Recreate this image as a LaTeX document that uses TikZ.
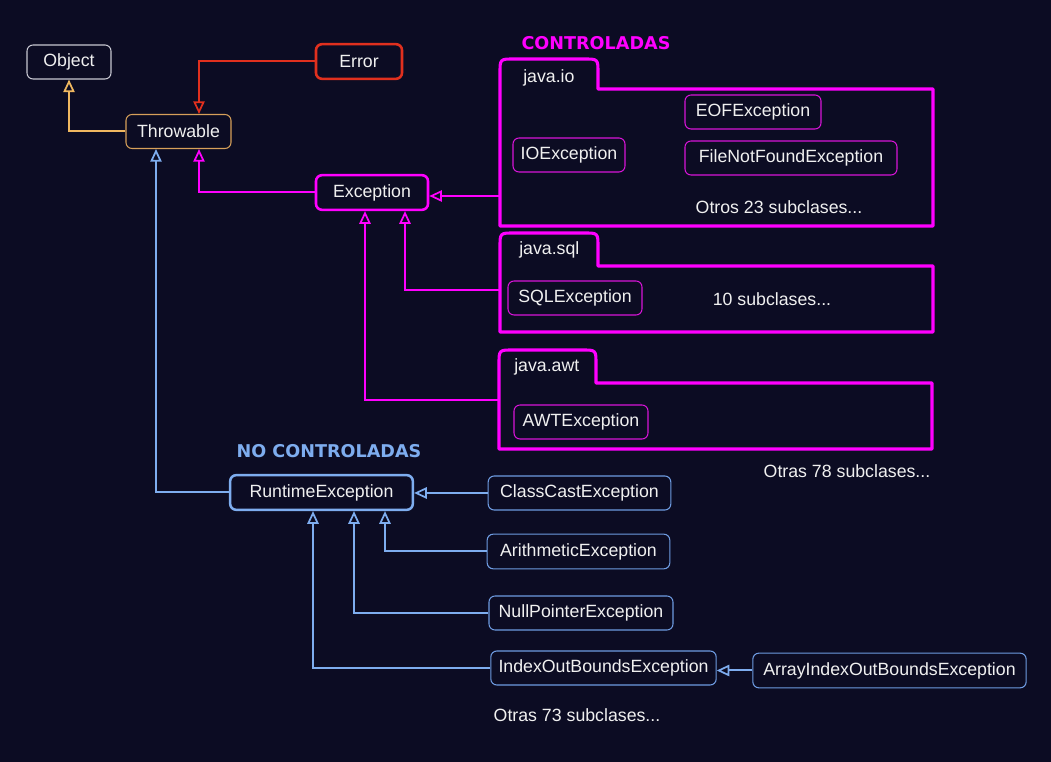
\documentclass[tikz,border=0pt]{standalone}
\usepackage{fontspec}
\setmainfont{Liberation Sans}
\newfontfamily\titlefont{DejaVu Sans}
\usetikzlibrary{arrows.meta,calc}
\definecolor{bg}{RGB}{12,12,35}
\definecolor{mag}{RGB}{255,0,255}
\definecolor{magd}{RGB}{215,20,215}
\definecolor{blu}{RGB}{126,173,239}
\definecolor{blud}{RGB}{110,155,225}
\definecolor{org}{RGB}{240,184,96}
\definecolor{orgd}{RGB}{215,160,90}
\definecolor{redc}{RGB}{225,48,30}
\definecolor{gry}{RGB}{200,200,210}
\definecolor{txt}{RGB}{240,240,240}
\tikzset{
  box/.style={rounded corners=4.5pt, text=txt, font=\fontsize{13.3}{15}\selectfont, minimum height=25.5pt, inner sep=0pt, fill=bg},
  thinbox/.style={box, line width=0.8pt},
  thickbox/.style={box, line width=1.9pt},
  lbl/.style={text=txt, font=\fontsize{13.3}{15}\selectfont, inner sep=0pt},
  ttl/.style={font=\titlefont\bfseries\fontsize{13.2}{15}\selectfont, inner sep=0pt},
  fold/.style={draw=mag, line width=2.3pt, line join=round},
  conn/.style={line width=1.5pt, -{Triangle[open,length=9.5pt,width=8.5pt,line width=1.3pt]}},
}
\begin{document}
\begin{tikzpicture}[x=0.75pt,y=-0.75pt]
\useasboundingbox[fill=bg] (0,0) rectangle (1051,762);

% folders
\draw[fold] (500,226) -- (500,73) .. controls (500,59) .. (514,59) -- (584,59) .. controls (598,59) .. (598,73) -- (598,89) -- (933,89) -- (933,226) -- cycle;
\draw[fold] (500,332) -- (500,247) .. controls (500,233) .. (514,233) -- (584,233) .. controls (598,233) .. (598,247) -- (598,266) -- (933,266) -- (933,332) -- cycle;
\draw[fold] (499,449) -- (499,364) .. controls (499,350) .. (513,350) -- (582,350) .. controls (596,350) .. (596,364) -- (596,383) -- (932,383) -- (932,449) -- cycle;
\node[lbl, anchor=west] (lio) at (523,78) {java.io};
\node[lbl, anchor=west] (lsql) at (519,250) {java.sql};
\node[lbl, anchor=west] (lawt) at (514,367) {java.awt};
\coordinate (ioL) at (500,196);
\coordinate (sqlL) at (500,290);
\coordinate (awtL) at (499,400);

% titles
\node[ttl, text=mag] (tc) at (596,43) {CONTROLADAS};
\node[ttl, text=blu] (tnc) at (329,451) {NO CONTROLADAS};

% nodes
\node[thinbox, draw=gry, minimum width=63pt] (obj) at (69,62) {Object};
\node[thinbox, draw=orgd, minimum width=78.75pt] (thr) at (178.5,131.5) {Throwable};
\node[thickbox, draw=redc, minimum width=64.5pt, minimum height=26pt] (err) at (359,61.5) {Error};
\node[thickbox, draw=mag, minimum width=84pt, minimum height=26pt] (exc) at (372,192.5) {Exception};

\node[thinbox, draw=magd, minimum width=84pt] (ioe) at (569,155) {IOException};
\node[thinbox, draw=magd, minimum width=102pt] (eof) at (753,112) {EOFException};
\node[thinbox, draw=magd, minimum width=159pt] (fnf) at (791,158) {FileNotFoundException};
\node[lbl] (o23) at (779,207) {Otros 23 subclases...};
\node[thinbox, draw=magd, minimum width=100.5pt] (sqle) at (575,298) {SQLException};
\node[lbl] (s10) at (772,299) {10 subclases...};
\node[thinbox, draw=magd, minimum width=100.5pt] (awte) at (581,422) {AWTException};
\node[lbl] (o78) at (847,471) {Otras 78 subclases...};

\node[thickbox, draw=blu, minimum width=137pt, minimum height=26pt] (rte) at (321.5,492.5) {RuntimeException};
\node[thinbox, draw=blud, minimum width=137pt] (cce) at (579.5,493) {ClassCastException};
\node[thinbox, draw=blud, minimum width=137pt, minimum height=26pt] (are) at (578.5,551.5) {ArithmeticException};
\node[thinbox, draw=blud, minimum width=138pt] (npe) at (581,613) {NullPointerException};
\node[thinbox, draw=blud, minimum width=169pt] (ioobe) at (603.5,668) {IndexOutBoundsException};
\node[thinbox, draw=blud, minimum width=205pt, minimum height=26pt] (aioobe) at (889.5,670.5) {ArrayIndexOutBoundsException};
\node[lbl] (o73) at (577,715) {Otras 73 subclases...};

% connectors
\draw[conn, draw=org] (thr.west) -| (obj.south);
\draw[conn, draw=redc] (err.west) -| ($(thr.north)+(20.5,0)$);
\draw[conn, draw=mag] (exc.west) -| ($(thr.south)+(20.5,0)$);
\draw[conn, draw=blu] (rte.west) -| ($(thr.south)+(-22.5,0)$);

\draw[conn, draw=mag] (ioL) -- (exc.east |- ioL);
\draw[conn, draw=mag] (sqlL) -| ($(exc.south)+(33,0)$);
\draw[conn, draw=mag] (awtL) -| ($(exc.south)+(-7,0)$);

\draw[conn, draw=blu] (cce.west) -- (rte.east |- cce.west);
\draw[conn, draw=blu] (are.west) -| ($(rte.south)+(63.5,0)$);
\draw[conn, draw=blu] (npe.west) -| ($(rte.south)+(32.5,0)$);
\draw[conn, draw=blu] (ioobe.west) -| ($(rte.south)+(-8.5,0)$);
\draw[conn, draw=blu] (aioobe.west) -- (ioobe.east |- aioobe.west);
\end{tikzpicture}
\end{document}
